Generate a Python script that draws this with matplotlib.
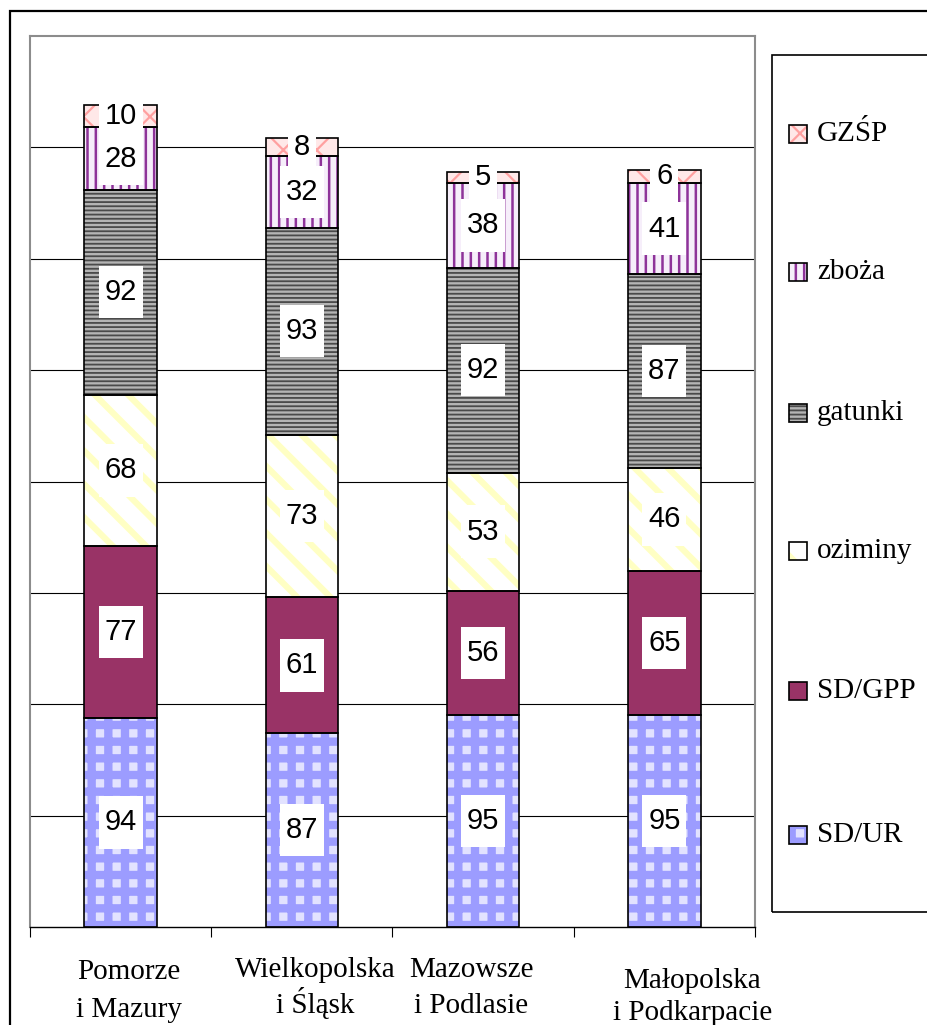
import matplotlib
matplotlib.use("Agg")
import matplotlib.pyplot as plt
from matplotlib.patches import Rectangle
from matplotlib.path import Path
from matplotlib.transforms import offset_copy
import numpy as np

# ---- data -------------------------------------------------------------
categories = ["Pomorze\ni Mazury", "Wielkopolska\ni Śląsk",
              "Mazowsze\ni Podlasie", "Małopolska\ni Podkarpacie"]
series_names = ["SD/UR", "SD/GPP", "oziminy", "gatunki", "zboża", "GZŚP"]
sd_ur = [94, 87, 95, 95]
sd_gpp = [77, 61, 56, 65]
oziminy = [68, 73, 53, 46]
gatunki = [92, 93, 92, 87]
zboza = [28, 32, 38, 41]
gzsp = [10, 8, 5, 6]
series_values = [sd_ur, sd_gpp, oziminy, gatunki, zboza, gzsp]

# ---- styles -----------------------------------------------------------
# (face colour, hatch, hatch colour, hatch line width)
styles = {
    "SD/UR":   ("#e2e2ff", "+",    "#9c9cff", 6.0),
    "SD/GPP":  ("#993366", None,   "#993366", 1.0),
    "oziminy": ("#ffffff", "\\",   "#ffffc4", 4.5),
    "gatunki": ("#b4b4b4", "----", "#4a4a4a", 1.3),
    "zboża":   ("#f6eefa", "||",   "#8e3399", 1.8),
    "GZŚP":    ("#ffe8e8", "x",    "#ffa0a0", 1.6),
}

W, H = 928, 1025
fig = plt.figure(figsize=(W / 100, H / 100), dpi=100)


def fx(px):
    return px / W


def fy(py):
    return 1 - py / H


ax = fig.add_axes([fx(30), fy(927), fx(755) - fx(30), fy(36) - fy(927)])

x = np.arange(len(categories))
bar_w = 0.4


def styled_patch(p, name):
    face, hatch, hcol, hlw = styles[name]
    p.set_facecolor(face)
    if hatch:
        p.set_hatch(hatch)
        p.set_edgecolor(hcol)
        if hasattr(p, "set_hatch_linewidth"):
            p.set_hatch_linewidth(hlw)
    p.set_linewidth(0)


def label_box(x0, y0, width, height, mutation_size):
    # white label background: narrow side padding, taller top/bottom
    px = 0.2 * mutation_size
    py = 0.42 * mutation_size
    l, r = x0 - px, x0 + width + px
    b, t = y0 - py, y0 + height + py
    return Path([(l, b), (r, b), (r, t), (l, t), (l, b)],
                [Path.MOVETO, Path.LINETO, Path.LINETO, Path.LINETO,
                 Path.CLOSEPOLY])


bottom = np.zeros(len(categories))
for name, vals in zip(series_names, series_values):
    vals = np.array(vals, dtype=float)
    bars = ax.bar(x, vals, bar_w, bottom=bottom, zorder=2)
    for p in bars:
        styled_patch(p, name)
    ax.bar(x, vals, bar_w, bottom=bottom, facecolor="none",
           edgecolor="black", linewidth=1.2, zorder=3)
    for xi, b, v in zip(x, bottom, vals):
        ax.text(xi, b + v / 2, f"{int(v)}", ha="center", va="center",
                fontsize=21, family="Liberation Sans", zorder=5,
                bbox=dict(boxstyle=label_box, fc="white", ec="none"))
    bottom += vals

# ---- axes -------------------------------------------------------------
ax.set_xlim(-0.5, 3.5)
ax.set_ylim(0, 400)
ax.set_yticks(np.arange(50, 400, 50))
ax.yaxis.grid(True, color="black", linewidth=0.8, zorder=0)
ax.tick_params(axis="y", length=0, labelleft=False)
ax.set_xticks(np.arange(-0.5, 4, 1.0))
ax.set_xticklabels([])
ax.tick_params(axis="x", length=7, width=0.8, color="black", direction="out")
ax.set_axisbelow(True)
for s in ("top", "right", "left"):
    ax.spines[s].set_color("#8c8c8c")
    ax.spines[s].set_linewidth(1.5)
ax.spines["bottom"].set_color("black")
ax.spines["bottom"].set_linewidth(1.0)

# category labels below the axis, one line at a time (pixel baselines)
label_dx = [8, 13, -12, 28]
label_baselines = [(979, 1017), (977, 1013), (977, 1013), (988, 1020)]
for xi, lab, dx, bls in zip(x, categories, label_dx, label_baselines):
    tr = offset_copy(ax.get_xaxis_transform(), fig=fig, x=dx, y=0, units="dots")
    for line, bl in zip(lab.split("\n"), bls):
        yax = (fy(bl) - fy(927)) / (fy(36) - fy(927))
        ax.text(xi, yax, line, transform=tr, ha="center", va="baseline",
                fontsize=21, family="Liberation Serif", clip_on=False)

# ---- legend -----------------------------------------------------------
fig.patches.append(Rectangle((fx(772), fy(912)), fx(1000) - fx(772),
                             fy(55) - fy(912), transform=fig.transFigure,
                             facecolor="none", edgecolor="black", linewidth=1.2))
legend_y = [835, 691, 551, 413, 272, 134]
for name, ly in zip(series_names, legend_y):
    sq = Rectangle((fx(789), fy(ly + 9)), fx(18), fy(0) - fy(18),
                   transform=fig.transFigure)
    styled_patch(sq, name)
    fig.patches.append(sq)
    fig.patches.append(Rectangle((fx(789), fy(ly + 9)), fx(18), fy(0) - fy(18),
                                 transform=fig.transFigure, facecolor="none",
                                 edgecolor="black", linewidth=1.2))
    fig.text(fx(817), fy(ly), name, ha="left", va="center", fontsize=21,
             family="Liberation Serif")

# outer frame
fig.patches.append(Rectangle((fx(10), fy(1100)), fx(1000) - fx(10),
                             fy(11) - fy(1100), transform=fig.transFigure,
                             facecolor="none", edgecolor="black", linewidth=1.6))

fig.savefig("out.png", dpi=100)
